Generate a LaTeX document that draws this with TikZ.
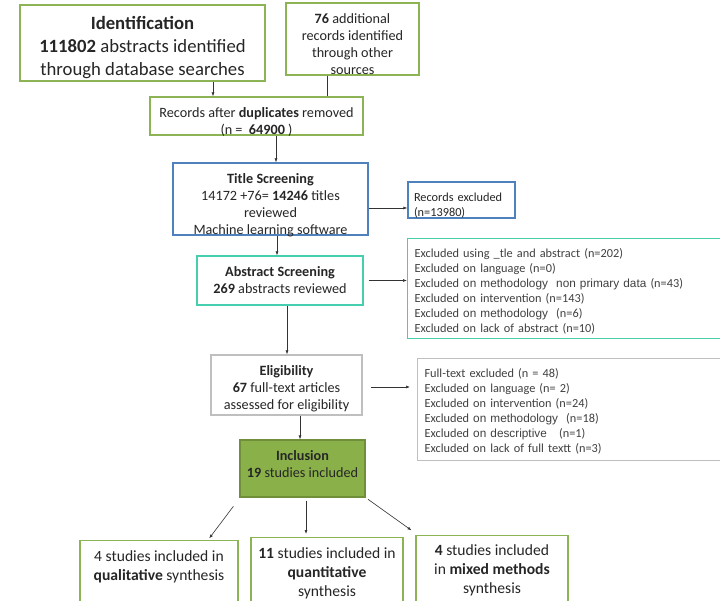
\documentclass[tikz,border=0pt]{standalone}
\usepackage{fontspec}
\setmainfont{Carlito}
\newfontfamily\arialf{Liberation Sans}
\usetikzlibrary{arrows.meta}
\definecolor{gbord}{HTML}{8DB454}
\definecolor{bbord}{HTML}{4F81BD}
\definecolor{tbord}{HTML}{45CFAE}
\definecolor{grbord}{HTML}{BFBFBF}
\definecolor{inclfill}{HTML}{8AB04A}
\definecolor{inclbord}{HTML}{6F8F3A}
\definecolor{txt}{HTML}{262626}
\definecolor{ltxt}{HTML}{404040}
\tikzset{
  box/.style={draw, line width=1.1pt, inner sep=0pt},
  gbox/.style={box, draw=gbord},
  bbox/.style={box, draw=bbord},
  tbox/.style={box, draw=tbord},
  grbox/.style={box, draw=grbord},
  tl/.style={align=center, inner sep=0pt, text=txt},
  listtxt/.style={align=left, inner sep=0pt, text=ltxt, font=\fontsize{12.3}{15.1}\selectfont},
  mid/.style={font=\fontsize{14.2}{17}\selectfont},
  big/.style={font=\fontsize{15.6}{19}\selectfont},
  arr/.style={draw=black!80, line width=0.6pt, -{Latex[length=4pt,width=3pt]}},
  ln/.style={draw=black!80, line width=0.6pt},
}
\newcommand{\arl}[1]{{\arialf\fontsize{11.8}{15.1}\selectfont #1}}
\begin{document}
\begin{tikzpicture}[x=1pt,y=-1pt]
\clip (0,0) rectangle (720,601);
\fill[white] (0,0) rectangle (720,601);

\node[gbox, minimum width=245pt, minimum height=76pt,
  label={[tl, font=\fontsize{18.7}{23}\selectfont, yshift=-5pt]center:{\textbf{Identification}\\\textbf{111802} abstracts identified\\through database searches}}]
  (ident) at (142.5,43) {};
\node[gbox, minimum width=133pt, minimum height=72pt,
  label={[tl, mid, yshift=-5pt]center:{\textbf{76} additional\\records identified\\through other\\sources}}]
  (src) at (352.5,39) {};
\node[gbox, minimum width=213pt, minimum height=38pt,
  label={[tl, mid, yshift=-6.5pt]center:{Records after \textbf{duplicates} removed\\(n = \ \textbf{64900} )}}]
  (dup) at (256.5,116) {};
\node[bbox, minimum width=195pt, minimum height=72pt,
  label={[tl, mid, yshift=-6pt]center:{\textbf{Title Screening}\\14172 +76= \textbf{14246} titles\\reviewed\\Machine learning software}}]
  (title) at (270.5,199) {};
\node[bbox, minimum width=107pt, minimum height=36pt,
  label={[tl, align=left, text width=95pt, font=\fontsize{12.3}{15}\selectfont, yshift=-6pt]center:{Records excluded\\(n=13980)}}]
  (recx) at (461.5,200) {};
\node[tbox, minimum width=166pt, minimum height=49pt,
  label={[tl, mid]center:{\textbf{Abstract Screening}\\\textbf{269} abstracts reviewed}}]
  (abs) at (280,280.5) {};
\node[tbox, minimum width=320pt, minimum height=100pt, anchor=north west,
  label={[listtxt, text width=306pt, yshift=-3pt]center:{Excluded using \_tle and abstract (n=202)\\
   Excluded on language (n=0)\\
   Excluded \arl{on methodology\ \ non primary data} (n=43)\\
   Excluded on intervention (n=143)\\
   Excluded \arl{on methodology} \ (n=6)\\
   Excluded on lack of abstract (n=10)}}]
  (exa) at (407,238) {};
\node[grbox, minimum width=151pt, minimum height=60pt,
  label={[tl, mid, yshift=-4pt]center:{\textbf{Eligibility}\\\textbf{67} full-text articles\\assessed for eligibility}}]
  (elig) at (286.5,385) {};
\node[grbox, minimum width=310pt, minimum height=102pt, anchor=north west,
  label={[listtxt, text width=296pt, yshift=-2pt]center:{Full-text excluded (n = 48)\\
   Excluded on language (n= 2)\\
   Excluded on intervention (n=24)\\
   Excluded \arl{on methodology} \ (n=18)\\
   Excluded \arl{on descriptive} \ \ (n=1)\\
   Excluded on lack of full textt (n=3)}}]
  (exf) at (417,358) {};
\node[box, draw=inclbord, fill=inclfill, minimum width=125pt, minimum height=57pt,
  label={[tl, mid, yshift=4.5pt]center:{\textbf{Inclusion}\\\textbf{19} studies included}}]
  (incl) at (302.5,468.5) {};
\node[gbox, minimum width=158pt, minimum height=70pt, anchor=north,
  label={[tl, big, yshift=8.5pt]center:{4 studies included in\\\textbf{qualitative} synthesis}}]
  (qual) at (159,540) {};
\node[gbox, minimum width=152pt, minimum height=70pt, anchor=north,
  label={[tl, big, yshift=-0.5pt]center:{\textbf{11} studies included in\\\textbf{quantitative}\\synthesis}}]
  (quan) at (327,537) {};
\node[gbox, minimum width=152pt, minimum height=72pt, anchor=north,
  label={[tl, big, yshift=1.5pt]center:{\textbf{4} studies included\\in \textbf{mixed methods}\\synthesis}}]
  (mixd) at (492,535) {};

% connectors
\draw[arr] ([xshift=70.5pt]ident.south) -- ([xshift=70.5pt]ident.south |- dup.north);
\draw[ln] ([xshift=-25pt]src.south) -- ([xshift=-25pt]src.south |- dup.north);
\draw[arr] ([xshift=19.5pt]dup.south) -- ([xshift=19.5pt]dup.south |- title.north);
\draw[arr] ([yshift=-9pt]title.east) -- ([yshift=-9pt]title.east -| recx.west);
\draw[arr] ([xshift=6.5pt]title.south) -- ([xshift=6.5pt]title.south |- abs.north);
\draw[arr] ([xshift=5pt]abs.east) -- (abs.east -| exa.west);
\draw[arr] ([xshift=8pt,yshift=-2pt]elig.east) -- ([xshift=-7pt,yshift=-2pt]elig.east -| exf.west);
\draw[arr] ([xshift=7pt]abs.south) -- ([xshift=7pt]abs.south |- elig.north);
\draw[arr] ([xshift=13.5pt]elig.south) -- ([xshift=13.5pt]elig.south |- incl.north);
\draw[arr, shorten <=11pt, shorten >=2pt] ([xshift=-62.5pt]incl.south) -- ([xshift=49pt]qual.north);
\draw[arr, shorten <=3pt, shorten >=3pt] ([xshift=3.5pt]incl.south) -- ([xshift=3.5pt]incl.south |- quan.north);
\draw[arr, shorten <=3pt, shorten >=8pt] (incl.south east) -- ([xshift=-74pt]mixd.north);
\end{tikzpicture}
\end{document}
